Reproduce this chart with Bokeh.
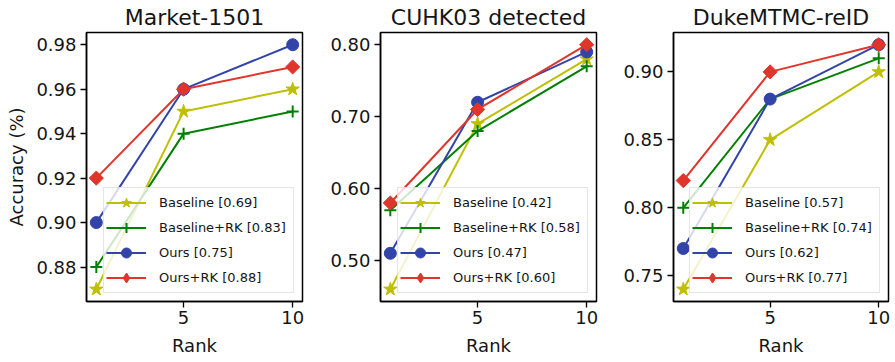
import math
from bokeh.plotting import figure
from bokeh.layouts import row
from bokeh.models import FixedTicker, NumeralTickFormatter, Range1d, Legend
from bokeh.embed import file_html
from bokeh.resources import INLINE

ranks = [1, 5, 10]
x_ticks = [5, 10]

titles = ["Market-1501", "CUHK03 detected", "DukeMTMC-reID"]
series_names = ["Baseline", "Baseline+RK", "Ours", "Ours+RK"]

# Market-1501
market_baseline = [0.87, 0.95, 0.96]
market_baseline_rk = [0.88, 0.94, 0.95]
market_ours = [0.90, 0.96, 0.98]
market_ours_rk = [0.92, 0.96, 0.97]
market_map = ["0.69", "0.83", "0.75", "0.88"]
market_yticks = [0.88, 0.90, 0.92, 0.94, 0.96, 0.98]

# CUHK03 detected
cuhk_baseline = [0.46, 0.69, 0.78]
cuhk_baseline_rk = [0.57, 0.68, 0.77]
cuhk_ours = [0.51, 0.72, 0.79]
cuhk_ours_rk = [0.58, 0.71, 0.80]
cuhk_map = ["0.42", "0.58", "0.47", "0.60"]
cuhk_yticks = [0.50, 0.60, 0.70, 0.80]

# DukeMTMC-reID
duke_baseline = [0.74, 0.85, 0.90]
duke_baseline_rk = [0.80, 0.88, 0.91]
duke_ours = [0.77, 0.88, 0.92]
duke_ours_rk = [0.82, 0.90, 0.92]
duke_map = ["0.57", "0.74", "0.62", "0.77"]
duke_yticks = [0.75, 0.80, 0.85, 0.90]

colors = ["#bfbf00", "#008000", "#3344a8", "#e0352b"]
markers = ["star", "cross", "circle", "square"]
legend_markers = ["star", "cross", "circle", "diamond"]
angles = [0, 0, 0, math.pi / 4]
msizes = [14, 12, 12, 10]

FONT = "DejaVu Sans"
TXT = "#151515"

panels = [
    (titles[0], [market_baseline, market_baseline_rk, market_ours, market_ours_rk], market_map, market_yticks),
    (titles[1], [cuhk_baseline, cuhk_baseline_rk, cuhk_ours, cuhk_ours_rk], cuhk_map, cuhk_yticks),
    (titles[2], [duke_baseline, duke_baseline_rk, duke_ours, duke_ours_rk], duke_map, duke_yticks),
]

geom = [  # width, border_left, border_right
    (304, 86, 2),
    (296, 76, 4),
    (295, 73, 7),
]

figs = []
for i, (title, data, maps, yticks) in enumerate(panels):
    w, bl, br = geom[i]
    allv = [v for s in data for v in s]
    lo, hi = min(allv), max(allv)
    m = (hi - lo) * 0.05
    p = figure(width=w, height=358, output_backend="svg", toolbar_location=None,
               title=title, x_range=Range1d(0.55, 10.45), y_range=Range1d(lo - m, hi + m),
               min_border_left=bl, min_border_right=br, min_border_top=0, min_border_bottom=0)
    p.title.text_font = FONT
    p.title.text_font_size = "22px"
    p.title.text_font_style = "normal"
    p.title.text_color = TXT
    p.title.align = "center"
    p.title.standoff = 5
    p.xgrid.visible = False
    p.ygrid.visible = False
    p.outline_line_color = "black"
    p.outline_line_width = 1.5
    p.outline_line_alpha = 1.0

    items = []
    for j, s in enumerate(data):
        r1 = p.line(ranks, s, line_color=colors[j], line_width=2)
        if markers[j] != legend_markers[j]:
            # narrower legend-friendly marker hidden beneath the rotated square
            r3 = p.scatter(ranks, s, marker=legend_markers[j], size=msizes[j],
                           fill_color=colors[j], line_color=colors[j], line_width=1)
        r2 = p.scatter(ranks, s, marker=markers[j], size=msizes[j], angle=angles[j],
                       fill_color=colors[j], line_color=colors[j],
                       line_width=2 if markers[j] == "cross" else 1)
        lab = f"{series_names[j]} [{maps[j]}]"
        if markers[j] != legend_markers[j]:
            items.append((lab, [r1, r3]))
        else:
            items.append((lab, [r1, r2]))

    legend = Legend(items=items, location="bottom_right")
    legend.label_text_font = FONT
    legend.label_text_font_size = "013px"
    legend.label_text_color = TXT
    legend.glyph_width = 40
    legend.glyph_height = 25
    legend.label_height = 25
    legend.label_width = 132
    legend.label_standoff = 13
    legend.spacing = 0
    legend.padding = 2
    legend.margin = 8
    legend.border_line_color = "#cccccc"
    legend.border_line_width = 1
    legend.background_fill_alpha = 0.8
    p.add_layout(legend, "center")

    for ax in (p.xaxis[0], p.yaxis[0]):
        ax.axis_line_width = 1.5
        ax.major_tick_line_width = 1.3
        ax.major_tick_out = 6
        ax.major_tick_in = 0
        ax.minor_tick_line_color = None
        ax.major_label_text_font = FONT
        ax.major_label_text_font_size = "18px"
        ax.major_label_text_color = TXT
        ax.axis_label_text_font = FONT
        ax.axis_label_text_font_size = "18px"
        ax.axis_label_text_font_style = "normal"
        ax.axis_label_text_color = TXT
    p.xaxis.major_label_standoff = 3
    p.xaxis.axis_label_standoff = 8
    p.yaxis.major_label_standoff = 4
    p.yaxis.axis_label_standoff = 6
    p.xaxis.ticker = FixedTicker(ticks=x_ticks)
    p.yaxis.ticker = FixedTicker(ticks=yticks)
    p.yaxis.formatter = NumeralTickFormatter(format="0.00")
    p.xaxis.axis_label = "Rank"
    if i == 0:
        p.yaxis.axis_label = "Accuracy (%)"
    figs.append(p)

layout = row(*figs, spacing=0)
open("out.html", "w").write(file_html(layout, INLINE))
